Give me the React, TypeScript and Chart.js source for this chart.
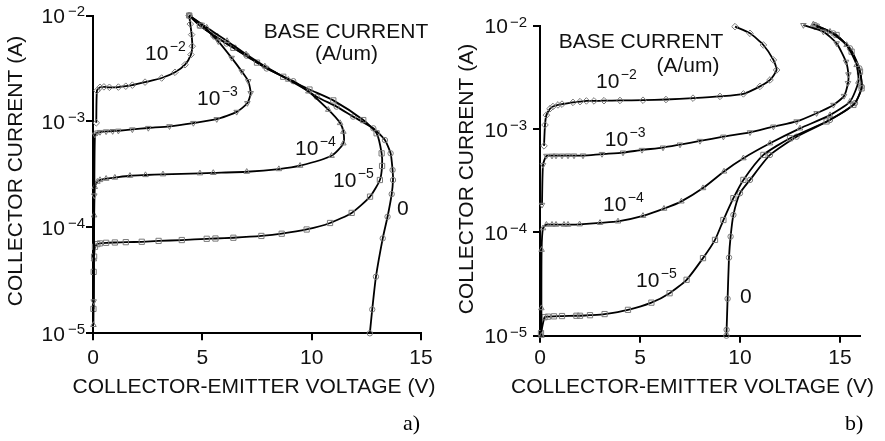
import React, { useEffect, useRef } from "react";
import { Chart, registerables } from "chart.js";

Chart.register(...registerables);

type Pt = [number, number];

// ---------- data: panel a) (Vce in V, Ic in A) ----------
const A_IB_1E2: Pt[] = [
  [0.15, 9.7e-4], [0.18, 1.95e-3], [0.32, 2.1e-3], [0.5, 2.12e-3], [0.75, 2.1e-3], [1.16, 2.11e-3],
  [1.5, 2.15e-3], [1.8, 2.2e-3], [2.38, 2.35e-3], [3.14, 2.57e-3], [3.75, 2.91e-3], [4.21, 3.43e-3],
  [4.48, 4.27e-3], [4.54, 5.13e-3], [4.51, 6.6e-3], [4.45, 8.3e-3], [4.4, 1.0e-2],
];
const A_IB_1E3: Pt[] = [
  [0.03, 2.0e-5], [0.06, 2.0e-4], [0.09, 7.5e-4], [0.2, 7.85e-4], [0.32, 7.94e-4], [0.6, 8.05e-4],
  [0.9, 8.1e-4], [1.16, 8.17e-4], [1.8, 8.4e-4], [2.53, 8.67e-4], [3.5, 9.0e-4], [4.59, 9.66e-4],
  [5.66, 1.05e-3], [6.57, 1.23e-3], [7.06, 1.49e-3], [7.21, 1.85e-3], [7.1, 2.4e-3], [6.8, 2.97e-3],
  [6.34, 3.98e-3], [5.73, 5.7e-3], [4.97, 8.18e-3], [4.4, 1.0e-2],
];
const A_IB_1E4: Pt[] = [
  [0.02, 1.2e-5], [0.04, 5.0e-5], [0.05, 1.3e-4], [0.08, 2.41e-4], [0.2, 2.7e-4], [0.32, 2.8e-4],
  [0.6, 2.88e-4], [1.0, 2.95e-4], [1.69, 3.07e-4], [2.4, 3.12e-4], [3.2, 3.17e-4], [4.89, 3.24e-4],
  [5.5, 3.27e-4], [7.03, 3.35e-4], [8.5, 3.55e-4], [9.47, 3.82e-4], [10.91, 4.74e-4], [11.45, 6.21e-4],
  [11.45, 8.0e-4], [11.3, 9.66e-4], [10.76, 1.29e-3], [9.85, 1.92e-3], [8.93, 2.48e-3], [7.86, 3.31e-3],
  [7.0, 4.3e-3], [6.13, 5.75e-3], [5.2, 7.7e-3], [4.4, 1.0e-2],
];
const A_IB_1E5: Pt[] = [
  [0.02, 1.7e-5], [0.03, 3.8e-5], [0.05, 5.3e-5], [0.09, 6.56e-5], [0.2, 6.95e-5], [0.32, 7.06e-5],
  [0.6, 7.15e-5], [1.0, 7.2e-5], [1.5, 7.25e-5], [2.23, 7.31e-5], [3.0, 7.45e-5], [4.06, 7.59e-5],
  [5.2, 7.8e-5], [5.6, 7.85e-5], [6.42, 7.98e-5], [7.7, 8.3e-5], [8.63, 8.71e-5], [9.77, 9.55e-5],
  [10.84, 1.1e-4], [11.83, 1.37e-4], [12.67, 1.95e-4], [13.12, 2.8e-4], [13.22, 3.8e-4], [13.2, 5.0e-4],
  [12.97, 7.73e-4], [12.36, 1.03e-3], [10.99, 1.58e-3], [9.9, 2.0e-3], [8.7, 2.64e-3], [7.5, 3.59e-3],
  [6.42, 4.95e-3], [5.6, 6.35e-3], [4.89, 8.04e-3], [4.4, 1.0e-2],
];
const A_IB_0: Pt[] = [
  [12.66, 1.0e-5], [12.77, 1.68e-5], [12.94, 3.42e-5], [13.25, 7.87e-5], [13.47, 1.26e-4], [13.66, 2.06e-4],
  [13.72, 2.8e-4], [13.7, 3.48e-4], [13.61, 5.0e-4], [13.35, 6.67e-4], [12.82, 8.61e-4], [11.9, 1.11e-3],
  [11.14, 1.38e-3], [10.23, 1.71e-3], [9.16, 2.4e-3], [7.94, 3.16e-3], [7.03, 4.17e-3], [6.11, 5.43e-3],
  [5.5, 6.53e-3], [4.89, 8.04e-3], [4.4, 1.0e-2],
];

// ---------- data: panel b) ----------
const B_IB_1E2: Pt[] = [
  [0.2, 6.9e-4], [0.25, 1.1e-3], [0.32, 1.37e-3], [0.5, 1.58e-3], [0.65, 1.66e-3], [0.9, 1.72e-3],
  [1.1, 1.75e-3], [1.65, 1.82e-3], [2.0, 1.85e-3], [2.32, 1.88e-3], [2.7, 1.88e-3], [3.2, 1.89e-3],
  [4.0, 1.9e-3], [5.15, 1.91e-3], [6.3, 1.94e-3], [7.65, 2.0e-3], [9.0, 2.08e-3], [10.17, 2.2e-3],
  [11.0, 2.6e-3], [11.5, 3.0e-3], [11.83, 3.75e-3], [11.67, 4.69e-3], [11.17, 6.55e-3], [10.5, 8.49e-3],
  [9.75, 9.86e-3],
];
const B_IB_1E3: Pt[] = [
  [0.1, 1.85e-4], [0.15, 4.5e-4], [0.32, 5.52e-4], [0.6, 5.54e-4], [0.8, 5.55e-4], [1.1, 5.55e-4],
  [1.4, 5.56e-4], [1.7, 5.56e-4], [2.15, 5.56e-4], [3.1, 5.75e-4], [4.15, 5.94e-4], [5.1, 6.3e-4],
  [6.15, 6.64e-4], [7.0, 7.1e-4], [8.0, 7.7e-4], [9.17, 8.47e-4], [10.5, 9.33e-4], [11.67, 1.06e-3],
  [12.83, 1.19e-3], [13.83, 1.43e-3], [14.67, 1.72e-3], [15.2, 2.1e-3], [15.4, 2.8e-3], [15.42, 3.4e-3],
  [15.3, 4.5e-3], [14.83, 6.79e-3], [14.17, 8.81e-3], [13.17, 1.02e-2],
];
const B_IB_1E4: Pt[] = [
  [0.07, 1.0e-5], [0.07, 1.85e-5], [0.08, 6.8e-5], [0.15, 1.1e-4], [0.32, 1.19e-4], [0.6, 1.19e-4],
  [0.8, 1.19e-4], [1.2, 1.19e-4], [1.4, 1.19e-4], [1.98, 1.2e-4], [3.0, 1.24e-4], [3.9, 1.28e-4],
  [5.15, 1.45e-4], [6.2, 1.7e-4], [7.07, 2.0e-4], [8.15, 2.69e-4], [9.2, 3.9e-4], [10.17, 5.24e-4],
  [11.5, 7.31e-4], [13.0, 1.02e-3], [14.5, 1.37e-3], [15.5, 1.85e-3], [15.92, 2.89e-3], [15.83, 4.19e-3],
  [15.33, 6.55e-3], [14.5, 8.81e-3], [13.67, 1.04e-2],
];
const B_IB_1E5: Pt[] = [
  [0.05, 1.06e-5], [0.23, 1.51e-5], [0.4, 1.53e-5], [0.7, 1.54e-5], [1.1, 1.55e-5], [1.82, 1.56e-5],
  [2.0, 1.56e-5], [2.5, 1.58e-5], [3.23, 1.62e-5], [4.4, 1.78e-5], [5.57, 2.09e-5], [6.48, 2.58e-5],
  [7.33, 3.48e-5], [8.15, 5.64e-5], [8.75, 8.47e-5], [9.17, 1.32e-4], [9.67, 2.15e-4], [10.17, 3.23e-4],
  [11.17, 5.64e-4], [12.5, 8.18e-4], [14.33, 1.19e-3], [15.67, 1.72e-3], [16.08, 2.49e-3], [16.0, 3.61e-3],
  [15.58, 5.64e-3], [14.83, 8.18e-3], [13.83, 9.86e-3],
];
const B_IB_0: Pt[] = [
  [9.32, 1.0e-5], [9.33, 1.14e-5], [9.38, 2.28e-5], [9.45, 5.71e-5], [9.53, 9.12e-5], [9.67, 1.48e-4],
  [10.0, 2.4e-4], [10.5, 3.23e-4], [11.5, 5.64e-4], [12.83, 8.47e-4], [14.5, 1.23e-3], [15.75, 1.79e-3],
  [16.08, 2.59e-3], [15.97, 3.89e-3], [15.5, 6.08e-3], [14.67, 8.49e-3], [13.75, 1.02e-2],
];

// ---------- ticks & labels ----------
const X_TICKS = [0, 5, 10, 15];
const Y_TICKS = [1e-5, 1e-4, 1e-3, 1e-2];
const CURVE_EXPONENTS = [-2, -3, -4, -5]; // base current labels 10^n ; last curve is "0"
const ZERO_LABEL = "0";
const X_TITLE = "COLLECTOR-EMITTER VOLTAGE (V)";
const Y_TITLE = "COLLECTOR CURRENT (A)";
const LEGEND_TITLE = "BASE CURRENT";
const LEGEND_UNIT = "(A/um)";

// ---------- styles ----------
const SANS = '"Liberation Sans", Arial, Helvetica, sans-serif';
const SERIF = '"Liberation Serif", "Times New Roman", serif';
const GRAY = "#7a7a7a";
const INK = "#111";
const MARKERS = [
  { style: "rectRot", rot: 0, r: 3.3 },
  { style: "triangle", rot: 180, r: 3.2 },
  { style: "triangle", rot: 0, r: 3.2 },
  { style: "rect", rot: 0, r: 3.7 },
  { style: "circle", rot: 0, r: 2.7 },
];

type Panel = {
  canvasLeft: number;
  width: number;
  height: number;
  area: { left: number; top: number; right: number; bottom: number };
  xMax: number;
  curves: Pt[][];
  yTickRight: number;
  yTickExpGap: number;
  xTickBaseline: number;
  xTitleX: number;
  xTitleBaseline: number;
  yTitleX: number;
  yTitleY: number;
  legendX: number;
  legendY1: number;
  legendUnitX: number;
  legendY2: number;
  curveLabelPos: { x: number; y: number }[];
  zeroPos: { x: number; y: number };
  letter: string;
  letterX: number;
  letterY: number;
};

const PANELS: Panel[] = [
  {
    canvasLeft: 0, width: 440, height: 441,
    area: { left: 93, top: 15.5, right: 421, bottom: 333.3 },
    xMax: 15,
    curves: [A_IB_1E2, A_IB_1E3, A_IB_1E4, A_IB_1E5, A_IB_0],
    yTickRight: 85, yTickExpGap: 3,
    xTickBaseline: 364,
    xTitleX: 254, xTitleBaseline: 393,
    yTitleX: 22, yTitleY: 171,
    legendX: 346, legendY1: 38, legendUnitX: 346.5, legendY2: 59.5,
    curveLabelPos: [{ x: 145, y: 60 }, { x: 197, y: 105 }, { x: 295, y: 155 }, { x: 333, y: 187 }],
    zeroPos: { x: 397, y: 215 },
    letter: "a)", letterX: 403, letterY: 430,
  },
  {
    canvasLeft: 440, width: 445, height: 441,
    area: { left: 100, top: 26, right: 420, bottom: 335.7 },
    xMax: 16,
    curves: [B_IB_1E2, B_IB_1E3, B_IB_1E4, B_IB_1E5, B_IB_0],
    yTickRight: 87, yTickExpGap: 2,
    xTickBaseline: 364,
    xTitleX: 252.5, xTitleBaseline: 393,
    yTitleX: 33, yTitleY: 179,
    legendX: 201, legendY1: 48, legendUnitX: 248, legendY2: 72,
    curveLabelPos: [{ x: 156, y: 87.5 }, { x: 164.7, y: 145.5 }, { x: 163, y: 210.7 }, { x: 196, y: 286.7 }],
    zeroPos: { x: 300, y: 303 },
    letter: "b)", letterX: 405, letterY: 430,
  },
];

function drawPow(
  ctx: CanvasRenderingContext2D,
  x: number,
  baseline: number,
  exp: number,
  align: "left" | "right",
  gap: number,
  raise: number,
  expSize: number
) {
  const baseFont = `21px ${SANS}`;
  const expFont = `${expSize}px ${SANS}`;
  const expStr = "\u2212" + Math.abs(exp);
  ctx.font = baseFont;
  const w10 = ctx.measureText("10").width;
  ctx.font = expFont;
  const wExp = ctx.measureText(expStr).width;
  const x0 = align === "right" ? x - (w10 + gap + wExp) : x;
  ctx.textAlign = "left";
  ctx.textBaseline = "alphabetic";
  ctx.font = baseFont;
  ctx.fillText("10", x0, baseline);
  ctx.font = expFont;
  ctx.fillText(expStr, x0 + w10 + gap, baseline - raise);
}

function makeTextPlugin(p: Panel) {
  return {
    id: "panelText",
    afterDraw(chart: any) {
      const ctx: CanvasRenderingContext2D = chart.ctx;
      const xs = chart.scales.x;
      const ys = chart.scales.y;
      ctx.save();
      ctx.fillStyle = INK;
      // y tick labels
      Y_TICKS.forEach((v) => {
        const py = ys.getPixelForValue(v);
        drawPow(ctx, p.yTickRight, py + 7.3, Math.round(Math.log10(v)), "right", p.yTickExpGap, 6.5, 15);
      });
      // x tick labels
      ctx.font = `21px ${SANS}`;
      ctx.textAlign = "center";
      ctx.textBaseline = "alphabetic";
      X_TICKS.forEach((v) => {
        ctx.fillText(String(v), xs.getPixelForValue(v), p.xTickBaseline);
      });
      // axis titles
      ctx.fillText(X_TITLE, p.xTitleX, p.xTitleBaseline);
      ctx.save();
      ctx.translate(p.yTitleX, p.yTitleY);
      ctx.rotate(-Math.PI / 2);
      ctx.fillText(Y_TITLE, 0, 0);
      ctx.restore();
      // legend title
      ctx.textAlign = "center";
      ctx.fillText(LEGEND_TITLE, p.legendX, p.legendY1);
      ctx.fillText(LEGEND_UNIT, p.legendUnitX, p.legendY2);
      // curve labels
      CURVE_EXPONENTS.forEach((e, i) => {
        const pos = p.curveLabelPos[i];
        drawPow(ctx, pos.x, pos.y, e, "left", 1.5, 9, 14);
      });
      ctx.font = `21px ${SANS}`;
      ctx.textAlign = "left";
      ctx.fillText(ZERO_LABEL, p.zeroPos.x, p.zeroPos.y);
      // panel letter
      ctx.font = `22px ${SERIF}`;
      ctx.fillStyle = "#000";
      ctx.fillText(p.letter, p.letterX, p.letterY);
      ctx.restore();
    },
  };
}

function PanelChart({ p }: { p: Panel }) {
  const ref = useRef<HTMLCanvasElement | null>(null);
  useEffect(() => {
    if (!ref.current) return;
    const datasets = p.curves.map((pts, i) => ({
      data: pts.map(([x, y]) => ({ x, y })),
      borderColor: "#000",
      borderWidth: 1.8,
      tension: 0.2,
      fill: false,
      clip: false as any,
      pointStyle: MARKERS[i].style as any,
      pointRotation: MARKERS[i].rot,
      pointRadius: MARKERS[i].r,
      pointBorderColor: GRAY,
      pointBackgroundColor: "rgba(0,0,0,0)",
      pointBorderWidth: 1,
    }));
    const chart = new Chart(ref.current, {
      type: "line",
      data: { datasets },
      options: {
        responsive: false,
        maintainAspectRatio: false,
        animation: false,
        devicePixelRatio: 1,
        events: [],
        layout: {
          padding: { left: 0, top: p.area.top, right: p.width - p.area.right, bottom: 0 },
        },
        plugins: { legend: { display: false }, tooltip: { enabled: false } },
        scales: {
          x: {
            type: "linear",
            min: 0,
            max: p.xMax,
            afterBuildTicks: (s: any) => {
              s.ticks = X_TICKS.map((v) => ({ value: v }));
            },
            afterFit: (s: any) => {
              s.height = p.height - p.area.bottom;
            },
            ticks: { display: false },
            grid: { display: true, drawOnChartArea: false, drawTicks: true, tickLength: 7, color: "#000", lineWidth: 2 },
            border: { display: true, color: "#000", width: 2 },
          },
          y: {
            type: "logarithmic",
            min: 1e-5,
            max: 1e-2,
            afterBuildTicks: (s: any) => {
              s.ticks = Y_TICKS.map((v) => ({ value: v }));
            },
            afterFit: (s: any) => {
              s.width = p.area.left;
            },
            ticks: { display: false },
            grid: { display: true, drawOnChartArea: false, drawTicks: true, tickLength: 7, color: "#000", lineWidth: 2 },
            border: { display: true, color: "#000", width: 2 },
          },
        },
      },
      plugins: [makeTextPlugin(p)],
    } as any);
    return () => chart.destroy();
  }, [p]);
  return (
    <canvas
      ref={ref}
      width={p.width}
      height={p.height}
      style={{ position: "absolute", left: p.canvasLeft, top: 0, width: p.width, height: p.height, display: "block" }}
    />
  );
}

export default function App() {
  return (
    <div style={{ position: "absolute", left: 0, top: 0, width: 885, height: 441, background: "#fff" }}>
      {PANELS.map((p) => (
        <PanelChart key={p.letter} p={p} />
      ))}
    </div>
  );
}
